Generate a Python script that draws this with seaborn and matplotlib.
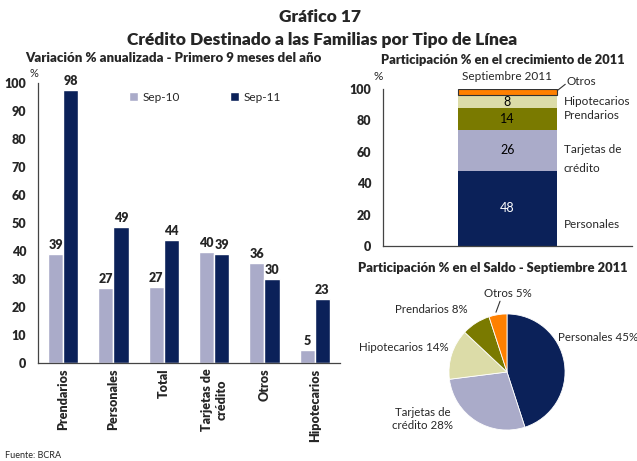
import matplotlib
matplotlib.use("Agg")
import matplotlib.pyplot as plt
import seaborn as sns
import pandas as pd
import numpy as np

# left chart: annualised variation, first 9 months
categories = ["Prendarios", "Personales", "Total", "Tarjetas de\ncrédito", "Otros", "Hipotecarios"]
sep10 = [38.9, 26.8, 27.1, 39.7, 35.7, 4.6]
sep11 = [97.6, 48.7, 44.0, 39.0, 30.0, 22.8]
series_names = ["Sep-10", "Sep-11"]

# right top: share in 2011 growth (stacked)
stack_labels = ["Personales", "Tarjetas de\ncrédito", "Prendarios", "Hipotecarios", "Otros"]
stack_values = [48, 26, 14, 8, 4]

# right bottom: share in balance Sep 2011
pie_labels = ["Personales 45%", "Tarjetas de\ncrédito 28%", "Hipotecarios 14%", "Prendarios 8%", "Otros 5%"]
pie_values = [45, 28, 14, 8, 5]

navy = "#0b2159"
lavender = "#aaabc9"
olive = "#7a7a00"
pale = "#dcdca8"
orange = "#ff8000"
stack_colors = [navy, lavender, olive, pale, orange]
pie_colors = [navy, lavender, pale, olive, orange]

sns.set_style("white")
plt.rcParams["font.family"] = ["Lato", "DejaVu Sans"]

W, H = 637, 461
fig = plt.figure(figsize=(W / 100, H / 100), dpi=100)

def px_axes(x0, y0, x1, y1):
    return fig.add_axes([x0 / W, 1 - y1 / H, (x1 - x0) / W, (y1 - y0) / H])

# ---- titles
fig.text(0.503, 1 - 17 / H, "Gráfico 17", ha="center", va="center", fontsize=12.5, fontweight="heavy")
fig.text(0.505, 1 - 40 / H, "Crédito Destinado a las Familias por Tipo de Línea", ha="center", va="center",
         fontsize=12.5, fontweight="heavy")
fig.text(173 / W, 1 - 58 / H, "Variación % anualizada - Primero 9 meses del año", ha="center", va="center",
         fontsize=9.5, fontweight="heavy")
fig.text(503 / W, 1 - 60 / H, "Participación % en el crecimiento de 2011", ha="center", va="center",
         fontsize=9.3, fontweight="heavy")
fig.text(493 / W, 1 - 268 / H, "Participación % en el Saldo - Septiembre 2011", ha="center", va="center",
         fontsize=9.4, fontweight="heavy")
fig.text(5 / W, 1 - 455 / H, "Fuente: BCRA", ha="left", va="center", fontsize=6.5)

# ---- left grouped bars
df = pd.DataFrame({
    "cat": categories * 2,
    "val": sep10 + sep11,
    "serie": [series_names[0]] * len(categories) + [series_names[1]] * len(categories),
})
ax = px_axes(38, 83, 340, 363)
sns.barplot(data=df, x="cat", y="val", hue="serie", palette=[lavender, navy], width=0.6,
            saturation=1, gap=0, ax=ax, legend=True)
for cont in ax.containers:
    ax.bar_label(cont, fmt="%.0f", padding=2, fontsize=9, fontweight="heavy")
ax.set_ylim(0, 100)
ax.set_xlim(-0.5, 5.5)
ax.set_yticks(range(0, 101, 10))
ax.set_xlabel("")
ax.set_ylabel("")
ax.tick_params(axis="y", direction="inout", length=5, width=0.8, labelsize=9, pad=6)
ax.tick_params(axis="x", length=0, labelsize=9, pad=4)
for lbl in ax.get_yticklabels():
    lbl.set_fontweight("heavy")
ax.set_xticks(range(len(categories)))
ax.set_xticklabels(categories, rotation=90, ha="center", va="top", multialignment="center", fontweight="heavy")
for s in ["top", "right"]:
    ax.spines[s].set_visible(False)
for s in ["left", "bottom"]:
    ax.spines[s].set_color("#444444")
    ax.spines[s].set_linewidth(0.9)
ax.text(-0.012, 1.015, "%", transform=ax.transAxes, ha="center", va="bottom", fontsize=8)
ax.legend(loc="center", bbox_to_anchor=(205 / W, 1 - 97 / H), bbox_transform=fig.transFigure,
          ncol=2, frameon=False, fontsize=8.5, handlelength=0.8, handleheight=0.8,
          columnspacing=4.2, handletextpad=0.4)

# ---- right top stacked bar
ax2 = px_axes(383, 89, 632, 246)
bottoms = np.concatenate([[0], np.cumsum(stack_values)[:-1]])
for i, (v, b) in enumerate(zip(stack_values, bottoms)):
    ax2.bar([0], [v], bottom=[b], width=0.4, color=stack_colors[i],
            edgecolor="#333333" if i == len(stack_values) - 1 else "none", linewidth=0.8)
    if i < len(stack_values) - 1:
        ax2.text(0, b + v / 2, str(v), ha="center", va="center", fontsize=9,
                 color="white" if i == 0 else "black")
ax2.set_xlim(-0.5, 0.5)
ax2.set_ylim(0, 100)
ax2.set_yticks(range(0, 101, 20))
ax2.set_xticks([])
ax2.tick_params(axis="y", direction="inout", length=5, width=0.8, labelsize=9, pad=6)
for lbl in ax2.get_yticklabels():
    lbl.set_fontweight("heavy")
for s in ["top", "right"]:
    ax2.spines[s].set_visible(False)
for s in ["left", "bottom"]:
    ax2.spines[s].set_color("#444444")
    ax2.spines[s].set_linewidth(0.9)
ax2.text(-0.02, 1.045, "%", transform=ax2.transAxes, ha="center", va="bottom", fontsize=8.5)
ax2.text(0, 108, "Septiembre 2011", ha="center", va="center", fontsize=8.5, clip_on=False)
side_y = [13.5, 55.5, 83, 92, 105]
side_x = [0.225, 0.225, 0.225, 0.225, 0.235]
for lab, x, y in zip(stack_labels, side_x, side_y):
    ax2.text(x, y, lab, ha="left", va="center", fontsize=8.5, linespacing=1.9, clip_on=False)
ax2.plot([0.2, 0.232], [99, 103], color="#333333", lw=0.8, clip_on=False)

# ---- pie
ax3 = px_axes(507 - 65, 372 - 65, 507 + 65, 372 + 65)
ax3.pie(pie_values, colors=pie_colors, startangle=90, counterclock=False,
        wedgeprops=dict(edgecolor="white", linewidth=0.6))
ax3.set_xlim(-1.12, 1.12)
ax3.set_ylim(-1.12, 1.12)
ax3.set_aspect("auto")
pie_pos = [(0.88, 0.59, "left"), (-1.45, -0.81, "center"), (-1.0, 0.43, "right"),
           (-0.67, 1.07, "right"), (0.02, 1.36, "center")]
for lab, (x, y, ha) in zip(pie_labels, pie_pos):
    ax3.text(x, y, lab, ha=ha, va="center", fontsize=8.3, multialignment="center", clip_on=False)
ax3.plot([-0.12, -0.19], [1.22, 1.03], color="#333333", lw=0.8, clip_on=False)

fig.savefig("out.png", dpi=100)
